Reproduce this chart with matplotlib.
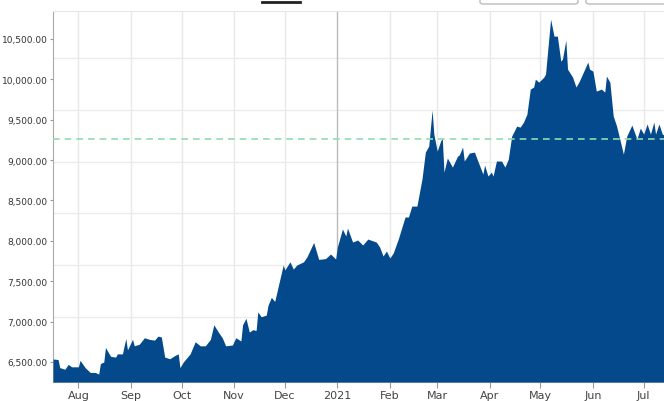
import matplotlib
matplotlib.use("Agg")
import matplotlib.pyplot as plt
from matplotlib.patches import FancyBboxPatch
import pandas as pd

start = pd.Timestamp("2020-07-17")
day_offsets = [0,3,4,7,9,11,15,16,19,22,25,27,28,30,31,34,37,38,41,43,44,47,48,51,54,57,60,62,64,66,69,72,74,75,77,81,84,87,90,93,95,98,100,102,106,108,111,112,114,116,118,120,121,123,126,127,129,131,133,136,137,140,142,144,148,150,154,157,161,
164,167,168,171,173,174,177,180,183,186,191,193,195,197,199,201,204,208,210,212,215,218,220,222,224,225,227,229,230,231,233,236,239,240,242,243,246,249,251,254,255,257,259,260,262,265,267,269,271,274,276,278,280,282,284,285,287,290,291,294,296,298,300,301,303,304,307,309,311,316,317,319,321,324,326,327,329,331,333,337,339,342,345,347,349,351,353,355,356,358,360,361]
values = [6537,6530,6430,6410,6470,6440,6440,6520,6430,6370,6370,6350,6480,6500,6680,6570,6560,6600,6600,6790,6650,6780,6700,6720,6800,6780,6770,6820,6810,6560,6540,6580,6600,6430,6500,6600,6750,6700,6700,6780,6960,6860,6800,6700,6710,6800,6760,6960,7040,6870,6900,6890,7120,7060,7080,7200,7300,7250,7430,7700,7640,7740,7650,7700,7740,7800,7980,7770,7780,
7837,7775,7923,8146,8060,8158,7985,8010,7948,8022,7985,7923,7812,7874,7787,7849,8022,8295,8295,8430,8430,8765,9099,9173,9619,9322,9111,9235,9272,8851,9025,8913,9049,9062,9161,8988,9087,9099,8988,8827,8938,8802,8851,8802,8988,8988,8913,9012,9297,9421,9408,9470,9569,9879,9904,10002,9965,10027,10064,10745,10535,10535,10225,10250,10485,10126,10027,9904,9978,10213,10126,10101,9854,9879,9842,10040,9965,9545,9421,9074,9297,9433,9260,9396,9322,9446,9322,9470,9322,9446,9322,9310]
ref_level = 9265
ytick_vals = [6500,7000,7500,8000,8500,9000,9500,10000,10500]
grid_vals = [7057,7700,8344,8975,9619,10262]
month_ticks = ["2020-08-01","2020-09-01","2020-10-01","2020-11-01","2020-12-01","2021-01-01",
               "2021-02-01","2021-03-01","2021-04-01","2021-05-01","2021-06-01","2021-07-01"]
month_labels = ["Aug","Sep","Oct","Nov","Dec","2021","Feb","Mar","Apr","May","Jun","Jul"]

dates = [start + pd.Timedelta(days=d) for d in day_offsets]

fig = plt.figure(figsize=(6.64,4.02), dpi=100)
ax = fig.add_axes([53/664, 19/402, 611/664, 371/402])
ymin = 6252
ax.fill_between(dates, values, ymin, color="#03498b", lw=0, zorder=3)
ax.axhline(ref_level, color="#8fdcb0", lw=1.2, ls=(0,(4,3)), zorder=4)
for g in grid_vals:
    ax.axhline(g, color="#ececec", lw=1, zorder=1)
mt = [pd.Timestamp(m) for m in month_ticks]
for i, m in enumerate(mt):
    ax.axvline(m, color="#bbbbbb" if month_labels[i]=="2021" else "#e8e8e8", lw=1, zorder=1)
ax.set_xlim(start, start + pd.Timedelta(days=361))
ax.set_ylim(ymin, 10846)
ax.set_xticks(mt)
ax.set_xticklabels(month_labels, fontsize=8, color="#444444")
ax.set_yticks(ytick_vals)
ax.set_yticklabels([f"{v:,.2f}" for v in ytick_vals], fontsize=6.5, color="#333333")
ax.tick_params(axis="y", length=2, color="#999999", pad=2)
ax.tick_params(axis="x", length=4, color="#999999", pad=2)
ax.spines["right"].set_visible(False)
ax.spines["top"].set_color("#e6e6e6")
ax.spines["left"].set_color("#aaaaaa")
ax.spines["bottom"].set_color("#aaaaaa")
fig.add_artist(plt.Line2D([262/664, 300/664], [1-3/402, 1-3/402], color="#222222", lw=2))
fig.add_artist(FancyBboxPatch((480/664, 1.0-5/402), 98/664, 20/402, boxstyle="round,pad=0,rounding_size=0.005",
                              transform=fig.transFigure, fc="white", ec="#bbbbbb", lw=1))
fig.add_artist(FancyBboxPatch((586/664, 1.0-5/402), 90/664, 20/402, boxstyle="round,pad=0,rounding_size=0.005",
                              transform=fig.transFigure, fc="white", ec="#bbbbbb", lw=1))
fig.savefig("out.png", dpi=100)
